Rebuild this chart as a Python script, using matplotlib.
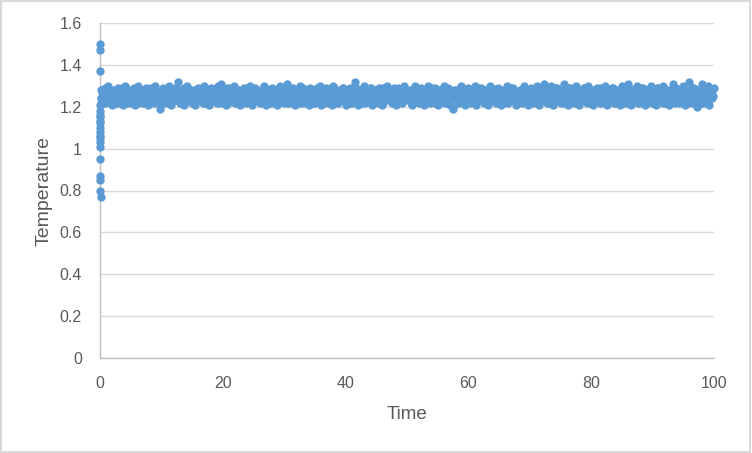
import matplotlib
matplotlib.use('Agg')
import matplotlib.pyplot as plt
import numpy as np
from matplotlib.ticker import FuncFormatter

plt.rcParams['font.family'] = ['Liberation Sans', 'DejaVu Sans']

### start-up transient near t = 0 ###
time_start = [0.00, 0.00, 0.00, 0.02, 0.03, 0.03, 0.03, 0.04, 0.04, 0.04, 0.05, 0.05,
              0.05, 0.06, 0.06, 0.07, 0.07, 0.08, 0.08, 0.09, 0.10, 0.12, 0.15]
temp_start = [1.50, 1.47, 1.37, 1.21, 1.18, 1.16, 1.15, 1.13, 1.12, 1.10, 1.08, 1.06,
              1.05, 1.03, 1.01, 0.95, 0.87, 0.85, 0.80, 0.77, 1.24, 1.28, 1.22]

### equilibrated run, sampled every 0.125 time units (two interleaved outputs) ###
temp_run_a = [
    1.27,1.22,1.29,1.24,1.30,1.23,1.26,1.21,1.28,1.25,1.22,1.29,1.24,1.27,1.21,1.30,1.25,1.23,1.28,1.22,
    1.26,1.29,1.21,1.24,1.30,1.23,1.27,1.22,1.25,1.29,1.21,1.28,1.24,1.26,1.22,1.30,1.23,1.27,1.19,1.25,
    1.29,1.22,1.26,1.24,1.30,1.21,1.27,1.23,1.29,1.25,1.32,1.22,1.28,1.24,1.21,1.27,1.30,1.23,1.25,1.22,
    1.28,1.21,1.25,1.29,1.23,1.27,1.22,1.30,1.24,1.26,1.21,1.29,1.23,1.27,1.25,1.22,1.30,1.24,1.31,1.22,
    1.26,1.21,1.29,1.23,1.27,1.24,1.30,1.22,1.25,1.28,1.21,1.26,1.23,1.29,1.22,1.27,1.24,1.30,1.21,1.25,
    1.29,1.23,1.26,1.22,1.28,1.24,1.30,1.21,1.27,1.25,1.22,1.29,1.24,1.27,1.21,1.26,1.30,1.23,1.28,1.22,
    1.25,1.31,1.22,1.27,1.24,1.29,1.21,1.26,1.23,1.30,1.25,1.22,1.28,1.24,1.27,1.21,1.29,1.23,1.26,1.22,
    1.28,1.24,1.30,1.21,1.26,1.23,1.29,1.25,1.22,1.27,1.21,1.30,1.24,1.26,1.22,1.28,1.23,1.29,1.25,1.21,
    1.27,1.23,1.29,1.22,1.25,1.32,1.24,1.21,1.28,1.26,1.22,1.30,1.23,1.27,1.24,1.29,1.21,1.26,1.23,1.28,
    1.22,1.29,1.25,1.21,1.27,1.24,1.30,1.23,1.26,1.22,1.28,1.24,1.21,1.29,1.25,1.27,1.22,1.30,1.23,1.26,
    1.24,1.28,1.21,1.26,1.30,1.23,1.27,1.22,1.29,1.25,1.21,1.27,1.24,1.30,1.22,1.26,1.23,1.29,1.25,1.21,
    1.28,1.23,1.26,1.30,1.22,1.25,1.29,1.21,1.27,1.19,1.24,1.28,1.22,1.26,1.30,1.23,1.27,1.21,1.25,1.29,
    1.22,1.26,1.24,1.30,1.21,1.27,1.23,1.29,1.25,1.22,1.28,1.24,1.21,1.30,1.26,1.23,1.27,1.22,1.29,1.25,
    1.21,1.28,1.24,1.26,1.30,1.22,1.27,1.23,1.29,1.25,1.21,1.26,1.24,1.28,1.22,1.30,1.23,1.27,1.21,1.25,
    1.29,1.22,1.26,1.24,1.30,1.21,1.27,1.23,1.31,1.25,1.22,1.28,1.24,1.30,1.21,1.26,1.23,1.29,1.25,1.22,
    1.27,1.31,1.23,1.26,1.21,1.29,1.24,1.28,1.22,1.30,1.25,1.21,1.27,1.23,1.29,1.26,1.22,1.30,1.24,1.28,
    1.21,1.26,1.23,1.29,1.25,1.22,1.28,1.24,1.30,1.21,1.27,1.23,1.26,1.29,1.22,1.25,1.28,1.24,1.21,1.30,
    1.23,1.27,1.22,1.31,1.25,1.21,1.28,1.24,1.26,1.30,1.22,1.27,1.23,1.29,1.21,1.25,1.28,1.24,1.30,1.22,
    1.26,1.21,1.29,1.23,1.27,1.24,1.30,1.22,1.25,1.28,1.21,1.26,1.31,1.23,1.29,1.25,1.22,1.28,1.24,1.30,
    1.21,1.27,1.23,1.32,1.26,1.22,1.29,1.24,1.20,1.28,1.25,1.31,1.22,1.27,1.23,1.30,1.21,1.26,1.24,1.29,
]
temp_run_b = [
    1.24,1.28,1.25,1.22,1.27,1.29,1.23,1.26,1.24,1.28,1.22,1.25,1.27,1.23,1.29,1.24,1.26,1.22,1.28,1.25,
    1.23,1.27,1.25,1.29,1.22,1.26,1.24,1.28,1.23,1.25,1.27,1.22,1.29,1.24,1.26,1.23,1.28,1.25,1.22,1.27,
    1.25,1.23,1.28,1.26,1.22,1.29,1.24,1.27,1.25,1.23,1.28,1.26,1.22,1.24,1.29,1.25,1.27,1.23,1.26,1.28,
    1.22,1.26,1.24,1.28,1.25,1.23,1.29,1.26,1.22,1.27,1.24,1.25,1.28,1.23,1.26,1.29,1.24,1.22,1.27,1.25,
    1.28,1.24,1.26,1.22,1.29,1.25,1.23,1.27,1.24,1.26,1.28,1.22,1.25,1.27,1.23,1.29,1.24,1.26,1.22,1.28,
    1.25,1.27,1.23,1.26,1.24,1.28,1.22,1.29,1.25,1.23,1.27,1.26,1.24,1.22,1.28,1.25,1.29,1.23,1.26,1.24,
    1.27,1.22,1.25,1.29,1.24,1.26,1.28,1.23,1.25,1.27,1.22,1.26,1.29,1.24,1.23,1.28,1.25,1.27,1.22,1.26,
    1.24,1.29,1.23,1.26,1.28,1.25,1.22,1.27,1.24,1.26,1.29,1.23,1.25,1.28,1.22,1.26,1.24,1.27,1.29,1.23,
    1.26,1.24,1.28,1.22,1.25,1.27,1.29,1.23,1.26,1.24,1.28,1.25,1.22,1.27,1.23,1.26,1.29,1.24,1.25,1.28,
    1.23,1.26,1.25,1.29,1.22,1.27,1.24,1.28,1.26,1.23,1.25,1.29,1.24,1.22,1.27,1.25,1.28,1.23,1.26,1.24,
    1.27,1.25,1.22,1.28,1.24,1.26,1.29,1.23,1.25,1.27,1.22,1.26,1.28,1.24,1.25,1.23,1.29,1.26,1.22,1.27,
    1.24,1.28,1.26,1.23,1.25,1.29,1.22,1.27,1.24,1.26,1.28,1.25,1.23,1.22,1.27,1.29,1.24,1.26,1.25,1.23,
    1.28,1.23,1.25,1.27,1.22,1.26,1.29,1.24,1.25,1.28,1.23,1.26,1.22,1.27,1.24,1.29,1.25,1.23,1.26,1.28,
    1.25,1.27,1.24,1.22,1.28,1.26,1.23,1.29,1.25,1.24,1.27,1.22,1.26,1.28,1.25,1.23,1.29,1.24,1.27,1.26,
    1.23,1.26,1.28,1.25,1.22,1.27,1.24,1.29,1.26,1.23,1.25,1.28,1.22,1.26,1.24,1.27,1.29,1.25,1.23,1.28,
    1.26,1.24,1.22,1.28,1.25,1.29,1.23,1.27,1.24,1.26,1.22,1.28,1.25,1.27,1.23,1.29,1.24,1.26,1.28,1.22,
    1.25,1.28,1.24,1.26,1.23,1.29,1.22,1.27,1.25,1.24,1.28,1.26,1.23,1.29,1.25,1.22,1.27,1.24,1.26,1.28,
    1.24,1.22,1.27,1.25,1.29,1.23,1.26,1.28,1.24,1.25,1.22,1.27,1.29,1.26,1.23,1.25,1.28,1.24,1.27,1.22,
    1.27,1.25,1.23,1.29,1.24,1.26,1.22,1.28,1.25,1.27,1.23,1.26,1.24,1.29,1.22,1.25,1.28,1.26,1.23,1.27,
    1.24,1.28,1.26,1.22,1.25,1.29,1.23,1.27,1.26,1.24,1.28,1.22,1.25,1.27,1.29,1.23,1.26,1.24,1.28,1.25,
]
dt = 0.25
time_run_a = dt*np.arange(1, len(temp_run_a)+1)
time_run_b = time_run_a - dt/2

time = np.concatenate([time_start, time_run_a, time_run_b])
temp = np.concatenate([temp_start, temp_run_a, temp_run_b])

yticks = [0, 0.2, 0.4, 0.6, 0.8, 1.0, 1.2, 1.4, 1.6]
xticks = [0, 20, 40, 60, 80, 100]

### make plot ###
fig = plt.figure(figsize=(7.52, 4.53), dpi=100)
ax = fig.add_axes([100/752, 95/453, 614/752, 335/453])
ax.plot(time, temp, 'o', color='#5B9BD5', ms=6.0, mew=0, clip_on=False, zorder=3)

ax.set_xlim(0, 100)
ax.set_ylim(0, 1.6)
ax.set_xticks(xticks)
ax.set_yticks(yticks)
ax.yaxis.set_major_formatter(FuncFormatter(lambda v, p: '%g' % round(v, 2)))
ax.grid(axis='y', color='#D9D9D9', linewidth=1)
ax.set_axisbelow(True)
for s in ['top', 'right']:
    ax.spines[s].set_visible(False)
for s in ['left', 'bottom']:
    ax.spines[s].set_color('#BFBFBF')
    ax.spines[s].set_linewidth(1)
ax.tick_params(axis='both', length=0, labelsize=11.5, colors='#595959')
ax.tick_params(axis='x', pad=13)
ax.tick_params(axis='y', pad=13)
ax.set_xlabel('Time', fontsize=13.5, color='#595959', labelpad=11)
ax.set_ylabel('Temperature', fontsize=14, color='#595959', labelpad=5)

# chart border
fig.patches.append(plt.Rectangle((0.001, 0.002), 0.997, 0.996, transform=fig.transFigure,
                                 fill=False, edgecolor='#D9D9D9', linewidth=1.5))

fig.savefig('out.png', dpi=100)
